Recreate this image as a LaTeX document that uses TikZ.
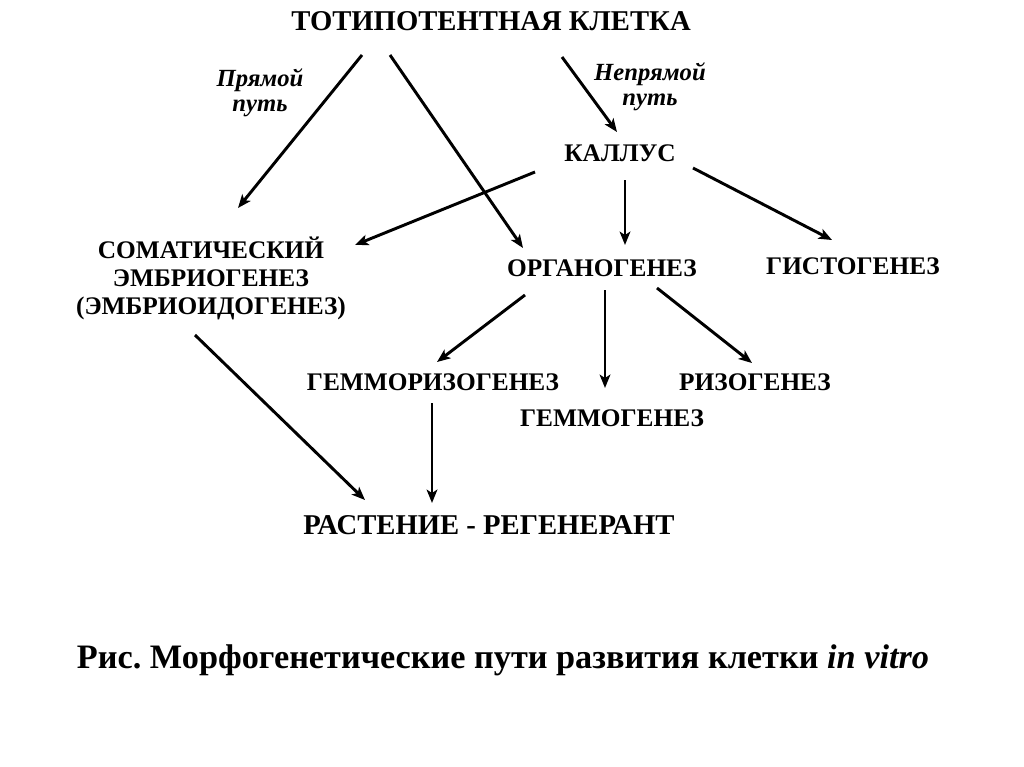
\documentclass[tikz,border=0pt]{standalone}
\usepackage{fontspec}
\setmainfont{Liberation Serif}
\usetikzlibrary{arrows.meta,calc}

\begin{document}
\begin{tikzpicture}[x=0.75pt,y=-0.75pt,
    term/.style={font=\bfseries\fontsize{19}{21}\selectfont,inner sep=0pt,align=center},
    way/.style={font=\bfseries\itshape\fontsize{18.5}{19}\selectfont,inner sep=0pt,align=center},
    arr/.style={line width=2.2pt,-{Stealth[length=10pt,width=8pt,inset=2.5pt]}}]
  \fill[white] (0,0) rectangle (1024,767);
  \useasboundingbox (0,0) rectangle (1024,767);

  % terms
  \node[term,font=\bfseries\fontsize{21.5}{24}\selectfont] (toti) at (491,21) {ТОТИПОТЕНТНАЯ КЛЕТКА};
  \node[way] (direct) at (260,93) {Прямой\\путь};
  \node[way] (indirect) at (650,87) {Непрямой\\путь};
  \node[term] (callus) at (620,153) {КАЛЛУС};
  \node[term] (soma) at (211,278) {СОМАТИЧЕСКИЙ\\ЭМБРИОГЕНЕЗ\\(ЭМБРИОИДОГЕНЕЗ)};
  \node[term] (organ) at (602,268) {ОРГАНОГЕНЕЗ};
  \node[term] (histo) at (853,266) {ГИСТОГЕНЕЗ};
  \node[term] (gemrhiz) at (433,382) {ГЕММОРИЗОГЕНЕЗ};
  \node[term] (rhiz) at (755,382) {РИЗОГЕНЕЗ};
  \node[term] (gemmo) at (612,418) {ГЕММОГЕНЕЗ};
  \node[term,font=\bfseries\fontsize{21.5}{23}\selectfont] (plant) at (489,525) {РАСТЕНИЕ - РЕГЕНЕРАНТ};
  \node[term,font=\bfseries\fontsize{25.7}{28}\selectfont] (caption) at (503,660) {Рис.\ Морфогенетические пути развития клетки \textit{in vitro}};

  % arrows
  \draw[arr] ($(toti)+(-129,34)$) -- ($(soma)+(27,-70)$);
  \draw[arr] ($(toti)+(-101,34)$) -- ($(organ)+(-79,-20)$);
  \draw[arr] ($(toti)+(71,36)$) -- ($(callus)+(-3,-21)$);
  \draw[arr] ($(callus)+(-85,19)$) -- ($(soma)+(144,-33)$);
  \draw[arr] ($(callus)+(5,27)$) -- ($(organ)+(23,-23)$);
  \draw[arr] ($(callus)+(73,15)$) -- ($(histo)+(-21,-26)$);
  \draw[arr] ($(organ)+(-77,27)$) -- ($(gemrhiz)+(4,-20)$);
  \draw[arr] ($(organ)+(3,22)$) -- ($(gemmo)+(-7,-30)$);
  \draw[arr] ($(organ)+(55,20)$) -- ($(rhiz)+(-3,-19)$);
  \draw[arr] ($(soma)+(-16,57)$) -- ($(plant)+(-124,-25)$);
  \draw[arr] ($(gemrhiz)+(-1,21)$) -- ($(plant)+(-57,-22)$);
\end{tikzpicture}
\end{document}
